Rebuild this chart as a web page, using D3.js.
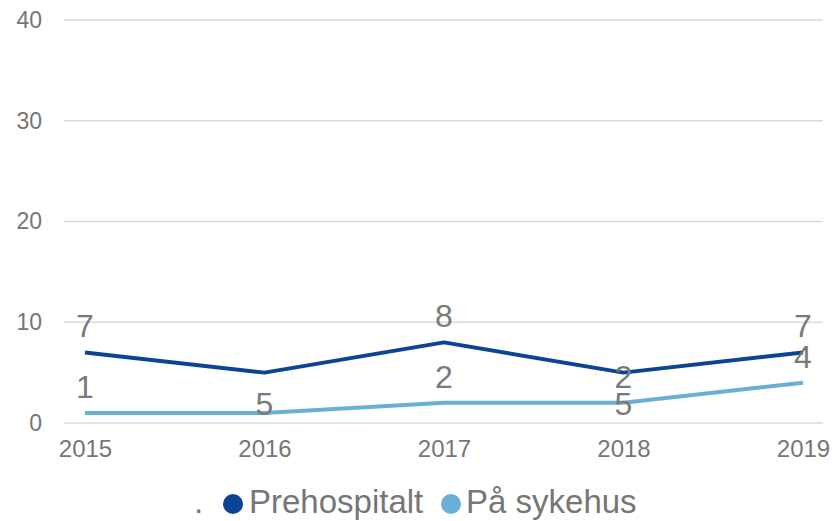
<!DOCTYPE html>
<html><head><meta charset="utf-8">
<script src="https://cdn.jsdelivr.net/npm/d3@7"></script>
<style>body{margin:0;background:#fff}svg{display:block;font-family:"Liberation Sans",Arial,sans-serif}</style>
</head><body><svg id="c" width="834" height="521"></svg>
<script>
const years = ["2015","2016","2017","2018","2019"];
const prehospitalt = [7,5,8,5,7];
const paaSykehus = [1,1,2,2,4];
const yTicks = [0,10,20,30,40];
const seriesNames = ["Prehospitalt","På sykehus"];
const colors = ["#0b4494","#6baed6"];

const svg = d3.select("#c");
const x = d3.scalePoint().domain(years).range([85,803]);
const y = d3.scaleLinear().domain([0,40]).range([423,20]);
const grey = "#767676";

// gridlines
svg.append("g").selectAll("line").data(yTicks).join("line")
  .attr("x1",64).attr("x2",823).attr("y1",d=>y(d)).attr("y2",d=>y(d))
  .attr("stroke","#d9d9d9").attr("stroke-width",1.5);

// y axis labels
const yAxis = d3.axisLeft(y).tickValues(yTicks).tickSize(0).tickPadding(0);
const gy = svg.append("g").attr("transform","translate(42,0)").call(yAxis);
gy.select(".domain").remove();
gy.selectAll("text").attr("font-size",23).attr("fill",grey).attr("font-family","Liberation Sans, Arial, sans-serif");

// x axis labels
const xAxis = d3.axisBottom(x).tickSize(0).tickPadding(0);
const gx = svg.append("g").attr("transform","translate(0,440)").call(xAxis);
gx.select(".domain").remove();
gx.selectAll("text").attr("font-size",24).attr("fill",grey).attr("font-family","Liberation Sans, Arial, sans-serif");

const series = [prehospitalt, paaSykehus];
const line = d3.line().x((d,i)=>x(years[i])).y(d=>y(d));
series.forEach((s,k)=>{
  svg.append("path").attr("d",line(s)).attr("fill","none")
    .attr("stroke",colors[k]).attr("stroke-width",4).attr("stroke-linejoin","round");
});

// data labels: local minima of a series placed below, others above; drop overlapping labels
const labels = [];
series.forEach((s,k)=>{
  s.forEach((v,i)=>{
    const localMin = i>0 && i<s.length-1 && v<s[i-1] && v<s[i+1];
    const base = localMin ? y(v)+42 : y(v)-15;
    labels.push({v,i,k,base});
  });
});
const shown = [];
labels.forEach(l=>{
  const clash = shown.some(o=>o.i===l.i && Math.abs(o.base-l.base)<20);
  if(!clash) shown.push(l);
});
svg.append("g").selectAll("text").data(shown).join("text")
  .attr("x",d=>x(years[d.i])).attr("y",d=>d.base)
  .attr("text-anchor","middle").attr("font-size",32).attr("fill","#7a7a7a")
  .text(d=>d.v);

// legend
const lg = svg.append("g");
lg.append("text").attr("x",194).attr("y",513).attr("font-size",33).attr("fill",grey).text(".");
const items = [{cx:233,tx:249},{cx:451,tx:466}];
items.forEach((it,k)=>{
  lg.append("circle").attr("cx",it.cx).attr("cy",504).attr("r",10).attr("fill",colors[k]);
  lg.append("text").attr("x",it.tx).attr("y",513).attr("font-size",33).attr("fill",grey).text(seriesNames[k]);
});
</script></body></html>
